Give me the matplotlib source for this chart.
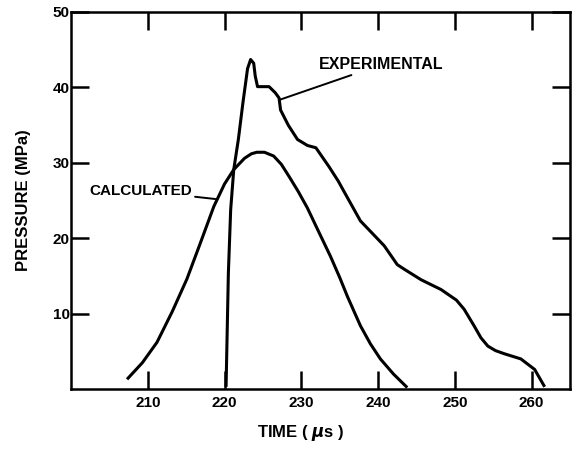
import numpy as np
import matplotlib.pyplot as plt

# values (time in microseconds, pressure in MPa)
calc_t = [207.3, 209.3, 211.2, 213.2, 215.1, 216.9, 218.6, 220.0, 221.2, 222.6,
          223.5, 224.2, 225.2, 226.4, 227.4, 228.4, 229.6, 230.8, 232.2, 233.8,
          235.0, 236.0, 237.0, 237.7, 239.0, 240.3, 242.0, 243.8]
calc_p = [1.3, 3.5, 6.2, 10.3, 14.6, 19.5, 24.2, 27.2, 29.1, 30.6,
          31.2, 31.4, 31.4, 30.9, 29.8, 28.2, 26.2, 24.0, 21.0, 17.6,
          14.8, 12.3, 10.0, 8.4, 6.0, 4.0, 2.0, 0.2]

exp_t = [220.2, 220.5, 220.8, 221.2, 221.8, 222.4, 223.0, 223.4, 223.8, 224.0,
         224.3, 225.0, 225.8, 226.6, 227.1, 227.3, 228.3, 229.5, 230.8, 231.9,
         233.6, 234.8, 236.0, 237.7, 239.3, 240.8, 242.5, 243.4, 245.6, 248.2,
         250.2, 251.2, 252.5, 253.4, 254.3, 255.3, 256.4, 258.6, 260.4, 261.7]
exp_p = [0.3, 15.4, 23.8, 29.1, 33.1, 38.0, 42.5, 43.7, 43.2, 41.5,
         40.1, 40.1, 40.1, 39.3, 38.6, 37.0, 35.0, 33.1, 32.3, 32.0,
         29.5, 27.6, 25.4, 22.3, 20.6, 19.0, 16.5, 15.9, 14.5, 13.2,
         11.8, 10.6, 8.4, 6.8, 5.7, 5.1, 4.7, 4.0, 2.6, 0.3]

x_ticks = [210, 220, 230, 240, 250, 260]
y_ticks = [10, 20, 30, 40, 50]

plt.rcParams['font.family'] = ['Liberation Sans', 'DejaVu Sans']
plt.rcParams['font.weight'] = 'bold'

fig = plt.figure(figsize=(5.74, 4.54), dpi=100)
ax = fig.add_axes([0.1237, 0.143, 0.8693, 0.8306])

ax.plot(calc_t, calc_p, color='black', lw=2.2, solid_capstyle='butt')
ax.plot(exp_t, exp_p, color='black', lw=2.2, solid_capstyle='butt')

ax.set_xlim(200, 265)
ax.set_ylim(0, 50)
ax.set_xticks(x_ticks)
ax.set_yticks(y_ticks)
ax.tick_params(direction='in', length=13, width=1.8, top=True, right=True,
               labelsize=11)
ax.tick_params(axis='y', pad=1)
ax.tick_params(axis='x', pad=5)
for s in ax.spines.values():
    s.set_linewidth(1.8)

ax.annotate('CALCULATED', xy=(218.8, 25.2), xytext=(215.8, 26.3),
            ha='right', va='center', fontsize=11, fontweight='bold',
            arrowprops=dict(arrowstyle='-', lw=1.4, color='black',
                            shrinkA=0, shrinkB=0))
ax.annotate('EXPERIMENTAL', xy=(227.3, 38.4), xytext=(232.3, 43.0),
            ha='left', va='center', fontsize=11.5, fontweight='bold',
            arrowprops=dict(arrowstyle='-', lw=1.4, color='black',
                            shrinkA=0, shrinkB=0))

ax.set_xlabel('TIME ( $\\mu$s )', fontsize=12, fontweight='bold')
ax.set_ylabel('PRESSURE (MPa)', fontsize=12, fontweight='bold')
ax.xaxis.label.set_va('center')
ax.yaxis.label.set_va('center')
ax.xaxis.set_label_coords(0.46, -0.117)
ax.yaxis.set_label_coords(-0.096, 0.5)

fig.savefig('out.png', dpi=100)
